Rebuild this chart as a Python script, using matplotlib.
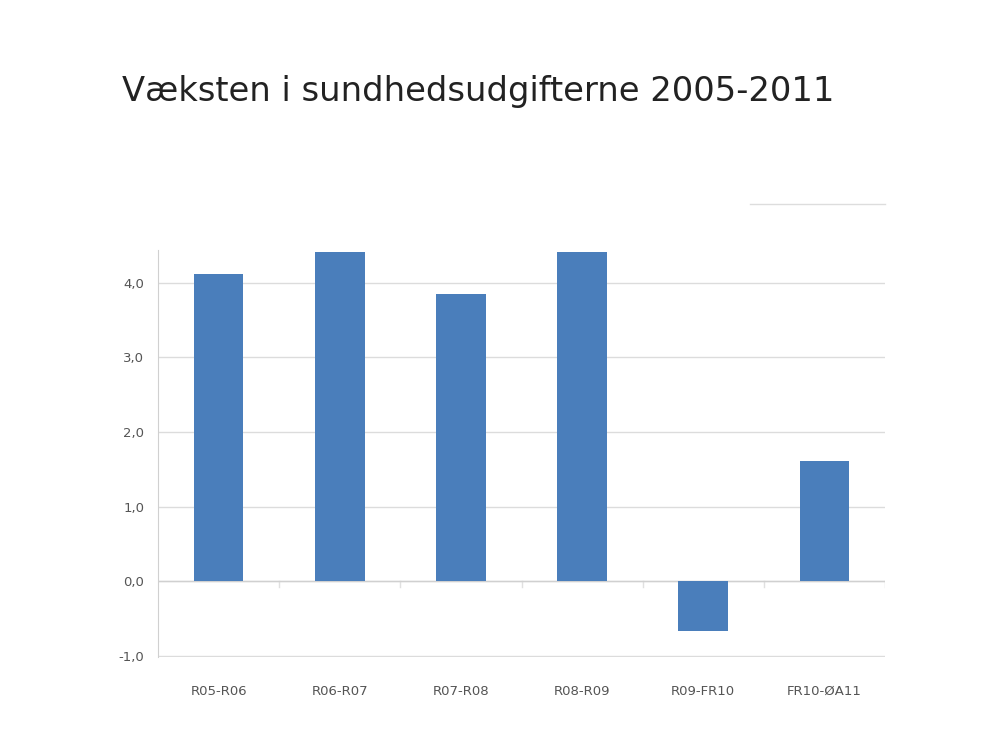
import matplotlib
matplotlib.use("Agg")
import matplotlib.pyplot as plt
from matplotlib.lines import Line2D

categories = ["R05-R06", "R06-R07", "R07-R08", "R08-R09", "R09-FR10", "FR10-ØA11"]
values = [4.11, 4.41, 3.84, 4.41, -0.66, 1.61]
yticks = [-1.0, 0.0, 1.0, 2.0, 3.0, 4.0]
ytick_labels = ["-1,0", "0,0", "1,0", "2,0", "3,0", "4,0"]

fig = plt.figure(figsize=(10, 7.53), dpi=100)
ax = fig.add_axes([0.158, 0.1275, 0.727, 0.54])

x = range(len(categories))
ax.bar(x, values, width=0.41, color="#4a7ebb", zorder=3)

ax.set_xlim(-0.5, len(categories) - 0.5)
ax.set_ylim(-1.01, 4.43)
ax.set_yticks(yticks)
ax.set_yticklabels(ytick_labels)
ax.set_xticks(list(x))
ax.set_xticklabels(categories)

ax.grid(axis="y", color="#dcdcdc", linewidth=1, zorder=0)
ax.axhline(0, color="#d0d0d0", linewidth=1, zorder=2)
for s in ["top", "right", "bottom"]:
    ax.spines[s].set_visible(False)
ax.spines["left"].set_color("#d0d0d0")
ax.tick_params(axis="both", length=0, colors="#555555", labelsize=9.5)
ax.tick_params(axis="y", pad=10)
ax.tick_params(axis="x", pad=20)

# small category-boundary ticks under the zero line
for b in range(1, len(categories) + 1):
    ax.plot([b - 0.5, b - 0.5], [0, -0.07], color="#e0e0e0", linewidth=1, zorder=1)

fig.text(0.122, 0.878, "Væksten i sundhedsudgifterne 2005-2011",
         fontsize=24.3, color="#222222", va="center", ha="left")

fig.add_artist(Line2D([0.75, 0.885], [0.729, 0.729], color="#dddddd", linewidth=1))

fig.savefig("out.png", dpi=100)
